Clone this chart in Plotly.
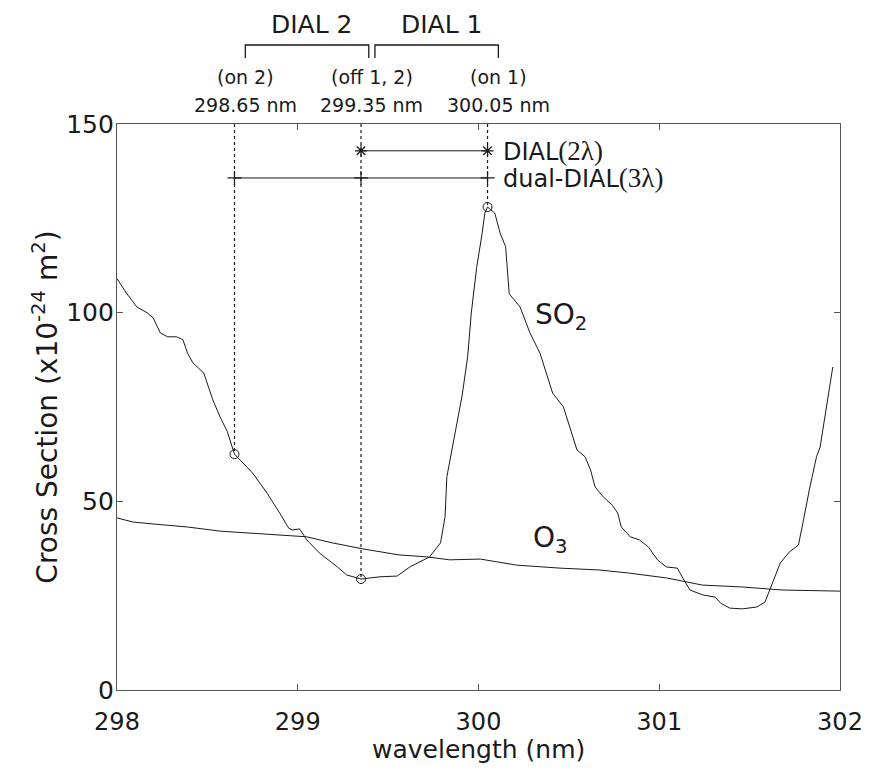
import plotly.graph_objects as go

# SO2 absorption cross section (x1e-24 m^2)
so2_wl = [298.00, 298.055, 298.11, 298.166, 298.20, 298.24, 298.28, 298.33, 298.365, 298.39,
          298.42, 298.48, 298.53, 298.57, 298.61, 298.65, 298.75, 298.83, 298.90, 298.95,
          298.97, 299.01, 299.05, 299.12, 299.22, 299.27, 299.35, 299.455, 299.55, 299.62,
          299.73, 299.79, 299.815, 299.825, 299.91, 299.94, 299.96, 299.99, 300.02, 300.035,
          300.05, 300.09, 300.12, 300.15, 300.17, 300.23, 300.285, 300.34, 300.41, 300.47,
          300.545, 300.59, 300.62, 300.645, 300.69, 300.74, 300.77, 300.79, 300.84, 300.89,
          300.94, 300.99, 301.04, 301.10, 301.13, 301.17, 301.24, 301.31, 301.34, 301.39,
          301.46, 301.54, 301.585, 301.61, 301.67, 301.72, 301.77, 301.795, 301.83, 301.87,
          301.89, 301.96]
so2_cs = [109, 105, 101.5, 100, 98.6, 94.6, 93.6, 93.6, 92.8, 89.3,
          86.7, 84, 76.9, 72.4, 68.5, 62.5, 57.5, 52.2, 46.9, 42.9,
          42.4, 42.7, 39.8, 36.3, 32.6, 30.5, 29.4, 30, 30.2, 32.6,
          35.3, 39, 45.9, 56.5, 78.2, 88.3, 99.9, 112, 121, 126.4,
          128, 126.4, 121, 117.5, 105, 101.5, 94.6, 89.3, 78.7, 75,
          63.6, 61.8, 58.3, 53.8, 51.2, 49, 46.9, 43.2, 40.6, 39.8,
          37.9, 34.5, 32.6, 32.3, 29.7, 26.5, 25.2, 24.6, 23, 21.7,
          21.5, 22, 23.3, 26.5, 33.7, 36.6, 38.4, 44.3, 53, 61.8,
          64.4, 85.6]

# O3 absorption cross section
o3_wl = [298.00, 298.09, 298.20, 298.39, 298.57, 298.75, 298.94, 299.05, 299.19, 299.36,
         299.56, 299.71, 299.84, 300.01, 300.21, 300.45, 300.67, 300.83, 301.04, 301.24,
         301.46, 301.68, 302.00]
o3_cs = [45.6, 44.5, 44, 43.2, 42.1, 41.6, 41.1, 40.6, 39, 37.4,
         35.8, 35.3, 34.5, 34.7, 33.1, 32.3, 31.8, 31, 29.7, 27.8,
         27.3, 26.5, 26.2]

# DIAL wavelengths
dial_wl = [298.65, 299.35, 300.05]
dial_cs = [62.5, 29.4, 128]          # SO2 cross section at those wavelengths
dial_tags = ["(on 2)", "(off 1, 2)", "(on 1)"]
dial_labels = ["298.65 nm", "299.35 nm", "300.05 nm"]
dial2l_wl = [299.35, 300.05]
dial2l_row = [142.9, 142.9]
dual_wl = [298.65, 299.35, 300.05]
dual_row = [135.7, 135.7, 135.7]

x_ticks = [298, 299, 300, 301, 302]
y_ticks = [0, 50, 100, 150]

FONT = "DejaVu Sans"
INK = "#1a1a1a"

fig = go.Figure()

# dotted verticals from top down to the marked points
for w, c in zip(dial_wl, dial_cs):
    fig.add_trace(go.Scatter(x=[w, w], y=[150, c], mode="lines",
                             line=dict(color=INK, width=1.2, dash="dot"),
                             showlegend=False, hoverinfo="skip"))

fig.add_trace(go.Scatter(x=so2_wl, y=so2_cs, mode="lines", line=dict(color=INK, width=1),
                         showlegend=False))
fig.add_trace(go.Scatter(x=o3_wl, y=o3_cs, mode="lines", line=dict(color=INK, width=1),
                         showlegend=False))
fig.add_trace(go.Scatter(x=dial_wl, y=dial_cs, mode="markers",
                         marker=dict(symbol="circle-open", size=9, color=INK,
                                     line=dict(width=1)),
                         showlegend=False))
fig.add_trace(go.Scatter(x=dial2l_wl, y=dial2l_row, mode="lines+markers",
                         line=dict(color=INK, width=1),
                         marker=dict(symbol="asterisk-open", size=10, color=INK,
                                     line=dict(width=1.2, color=INK)),
                         showlegend=False))
fig.add_trace(go.Scatter(x=dual_wl, y=dual_row, mode="lines+markers",
                         line=dict(color=INK, width=1),
                         marker=dict(symbol="cross-thin-open", size=10, color=INK,
                                     line=dict(width=1.2, color=INK)),
                         showlegend=False))

# top labels for the wavelengths
d = 0.06
for w, tag, lab in zip(dial_wl, dial_tags, dial_labels):
    fig.add_annotation(x=w + d, y=1.083, xref="x", yref="paper", text=tag,
                       xanchor="center", yanchor="middle",
                       showarrow=False, font=dict(family=FONT, size=19, color=INK))
    fig.add_annotation(x=w + d, y=1.0336, xref="x", yref="paper", text=lab,
                       xanchor="center", yanchor="middle",
                       showarrow=False, font=dict(family=FONT, size=19, color=INK))

# brackets
g = 0.017
yb_top, yb_end = 1.1396, 1.1166
brackets = [("DIAL 2", dial_wl[0] + d, dial_wl[1] + d - g),
            ("DIAL 1", dial_wl[1] + d + g, dial_wl[2] + d)]
for name, x0, x1 in brackets:
    fig.add_shape(type="path", xref="x", yref="paper",
                  path=f"M {x0},{yb_end} L {x0},{yb_top} L {x1},{yb_top} L {x1},{yb_end}",
                  line=dict(color=INK, width=1.3))
    fig.add_annotation(x=(x0 + x1) / 2 + 0.03, y=1.175, xref="x", yref="paper", text=name,
                       xanchor="center", yanchor="middle",
                       showarrow=False, font=dict(family=FONT, size=25, color=INK))

serif = "font-family:'Liberation Serif';font-size:27px"
fig.add_annotation(x=300.125, y=dial2l_row[0], xref="x", yref="y", xanchor="left",
                   yanchor="middle",
                   text=f"DIAL<span style=\"{serif}\">(2λ)</span>", showarrow=False,
                   font=dict(family=FONT, size=24, color=INK))
fig.add_annotation(x=300.125, y=dual_row[0], xref="x", yref="y", xanchor="left",
                   yanchor="middle",
                   text=f"dual-DIAL<span style=\"{serif}\">(3λ)</span>", showarrow=False,
                   font=dict(family=FONT, size=24, color=INK))
fig.add_annotation(x=300.30, y=99, xref="x", yref="y", xanchor="left", yanchor="middle",
                   text="SO<sub>2</sub>", showarrow=False,
                   font=dict(family=FONT, size=28, color=INK))
fig.add_annotation(x=300.29, y=40, xref="x", yref="y", xanchor="left", yanchor="middle",
                   text="O<sub>3</sub>", showarrow=False,
                   font=dict(family=FONT, size=28, color=INK))

# x-axis title
fig.add_annotation(x=0.5, y=-0.106, xref="paper", yref="paper", xanchor="center",
                   yanchor="middle", text="wavelength (nm)", showarrow=False,
                   font=dict(family=FONT, size=25, color=INK))

axis_common = dict(showgrid=False, zeroline=False, showline=True, linecolor="#555",
                   linewidth=1.2, mirror="ticks", ticks="inside", ticklen=6,
                   tickcolor="#555")
fig.update_xaxes(range=[298, 302], tickvals=x_ticks, ticktext=[str(v) for v in x_ticks],
                 tickfont=dict(family=FONT, size=24, color=INK),
                 ticklabelstandoff=10, **axis_common)
fig.update_yaxes(range=[0, 150], tickvals=y_ticks, ticktext=[str(v) for v in y_ticks],
                 tickfont=dict(family=FONT, size=25, color=INK),
                 title=dict(text="Cross Section (x10<sup>-24</sup> m<sup>2</sup>)",
                            font=dict(family=FONT, size=28, color=INK), standoff=0),
                 ticklabelstandoff=-3, **axis_common)

fig.update_layout(width=859, height=760, paper_bgcolor="white", plot_bgcolor="white",
                  margin=dict(l=109, r=27, t=116, b=78, autoexpand=False),
                  showlegend=False)

fig.write_html("out.html")
